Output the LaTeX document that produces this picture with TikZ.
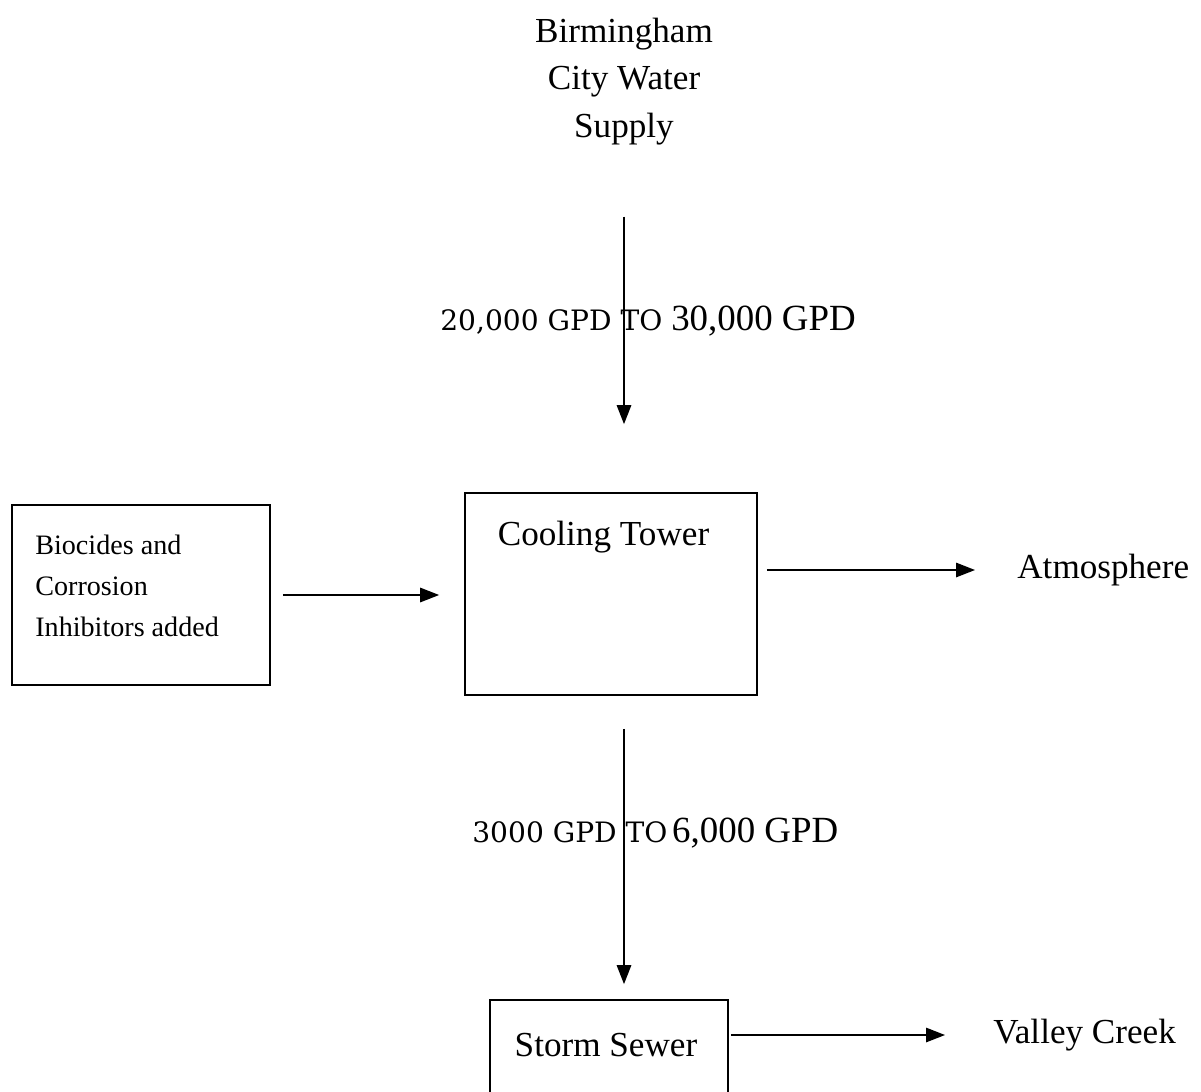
\documentclass[tikz,border=0pt]{standalone}
\usepackage{fontspec}
\setmainfont{Liberation Serif}
\newfontfamily\widefont{DejaVu Serif}
\usetikzlibrary{arrows.meta,calc,positioning}

\begin{document}
\begin{tikzpicture}[x=1cm,y=1cm,font=\fontsize{20}{27.2}\selectfont,
  box/.style={draw,line width=1pt,inner sep=0pt},
  word/.style={inner sep=0pt},
  flow/.style={line width=0.8pt,-{Triangle[length=3.8mm,width=2.9mm]}}]
\useasboundingbox (0,0) rectangle (24.02,-21.82);
\clip (0,0) rectangle (24.02,-21.82);
% source, tower and outlets
\node[word,align=center] (supply) at (12.48,-1.63) {Birmingham\\City Water\\Supply};
\node[box,minimum width=5.84cm,minimum height=4.04cm] (tower) at (12.22,-11.88) {};
\node[word] (towertxt) at (12.07,-10.74) {Cooling Tower};
\node[box,minimum width=5.16cm,minimum height=3.6cm] (dosing) at (2.82,-11.9) {};
\node[word,align=left,anchor=west,font=\fontsize{16}{23.3}\selectfont] (dosingtxt) at (0.7,-11.72) {Biocides and\\Corrosion\\Inhibitors added};
\node[word,anchor=west] (atmos) at (20.34,-11.4) {Atmosphere};
\node[box,minimum width=4.76cm,minimum height=2.4cm] (sewer) at (12.18,-21.2) {};
\node[word] (sewertxt) at (12.12,-20.9) {Storm Sewer};
\node[word,anchor=west] (creek) at (19.86,-20.7) {Valley Creek};
% flow rates
\node[word,anchor=base west] (inrate) at (8.8,-6.6) {{\widefont\fontsize{16}{19}\selectfont 20,000 GPD TO }{\fontsize{21}{25}\selectfont 30,000 GPD}};
\node[word,anchor=base west] (outrate) at (9.44,-16.84) {{\widefont\fontsize{16}{19}\selectfont 3000 GPD TO\,}{\fontsize{21}{25}\selectfont 6,000 GPD}};
% arrows
\draw[flow,shorten <=1.42cm,shorten >=1.36cm] (supply.south) -- (supply.south |- tower.north);
\draw[flow,shorten <=0.24cm,shorten >=0.5cm] (dosing.east) -- (dosing.east -| tower.west);
\draw[flow,shorten <=0.18cm,shorten >=0.84cm] (atmos.west -| tower.east) -- (atmos.west);
\draw[flow,shorten <=0.66cm,shorten >=0.3cm] (supply |- tower.south) -- (supply |- sewer.north);
\draw[flow,shorten <=0.04cm,shorten >=0.96cm] (creek.west -| sewer.east) -- (creek.west);
\end{tikzpicture}
\end{document}
